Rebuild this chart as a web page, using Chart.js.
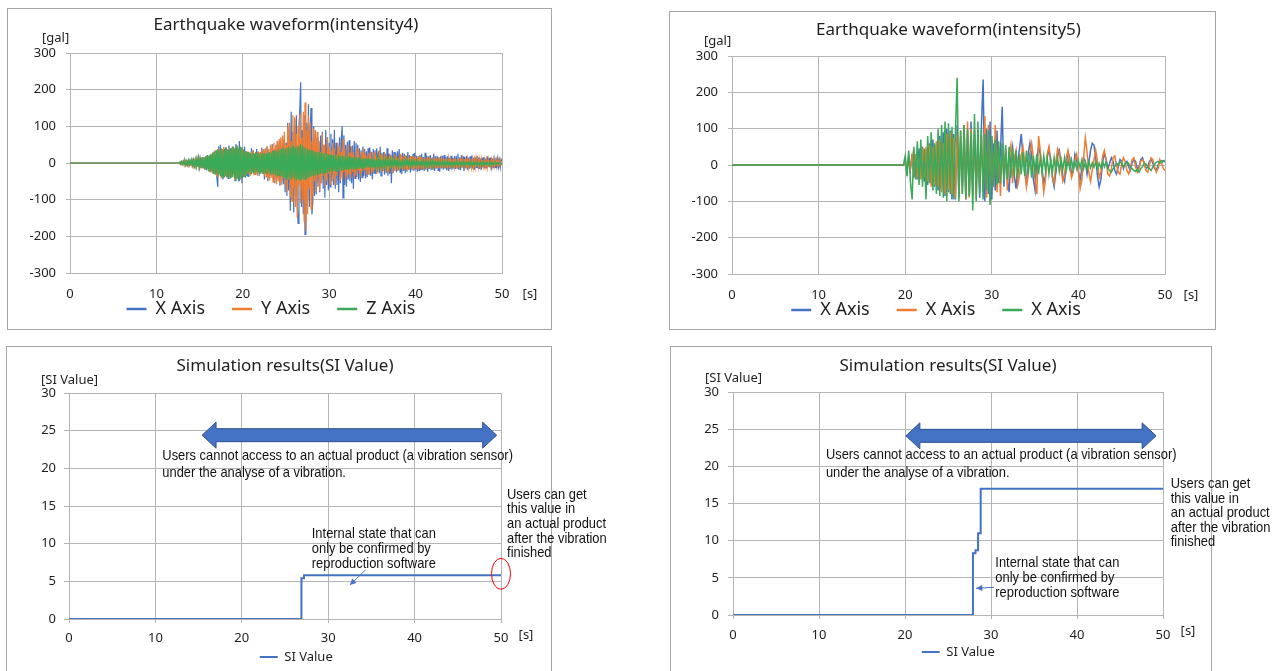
<!DOCTYPE html>
<html>
<head>
<meta charset="utf-8">
<script src="https://cdn.jsdelivr.net/npm/chart.js@4.4.1/dist/chart.umd.min.js"></script>
<style>
  html, body { margin: 0; padding: 0; background: #fff; }
  body { position: relative; width: 1283px; height: 671px; overflow: hidden; }
  .frame { position: absolute; box-sizing: border-box; border: 1px solid #a6a6a6; background: #fff; }
  canvas { position: absolute; }
</style>
</head>
<body>
<div class="frame" style="left:7px;top:8px;width:545px;height:322px"></div>
<div class="frame" style="left:669px;top:11px;width:547px;height:319px"></div>
<div class="frame" style="left:6px;top:346px;width:546px;height:400px"></div>
<div class="frame" style="left:670px;top:346px;width:542px;height:400px"></div>
<canvas id="wave4" width="543" height="320" style="left:8px;top:9px"></canvas>
<canvas id="wave5" width="545" height="317" style="left:670px;top:12px"></canvas>
<canvas id="si4" width="620" height="340" style="left:7px;top:347px"></canvas>
<canvas id="si5" width="612" height="340" style="left:671px;top:347px"></canvas>
<script>
// ---- values ----
const timeTicks = [0, 10, 20, 30, 40, 50];
const galTicks = [-300, -200, -100, 0, 100, 200, 300];
const siTicks = [0, 5, 10, 15, 20, 25, 30];

// intensity 4 record, one sample every 0.1 s from 12.6 s (flat zero before)
const wave4Start = 12.6;
const wave4Step = 0.1;
const wave4X = [
  0, 2, -3, 4, -2, 5, -4, 3, -6, 5, -3, 7, -5, 4, -8, 6, -5, 8, -7, 6,
  -9, 11, -8, 13, -10, 9, -14, 16, -12, 10, -18, 15, -20, 22, -15, 18, -25, 20, -22, 28,
  -25, 32, -30, 22, -40, -65, 45, -28, 50, -35, 38, -45, 30, -38, 42, -25, 35, -42, 48, -30,
  40, -35, 45, -28, 38, -48, 52, -40, 35, -50, 60, -45, 42, -55, 38, -30, 45, -40, 32, -35,
  30, -38, 25, -30, 40, -22, 35, -28, 20, -32, 38, -25, 30, -35, 28, -20, 42, -30, 35, -45,
  38, -30, 45, -50, 32, -40, 28, -35, 52, -42, 38, -55, 48, -38, 60, -45, 55, -62, 45, -50,
  70, -58, 65, -80, 55, -90, 110, -75, 95, -130, 140, -100, 85, -135, 120, -90, 130, -110, -165, 100,
  150, 220, -120, 90, -140, 130, -195, -150, 110, -100, 160, -120, 90, 150, -140, -110, 100, -90, 80, -85,
  70, -65, 60, -80, 75, -55, 85, -70, 50, -95, 90, -60, 70, -75, 55, -65, 80, -50, 65, -60,
  90, -70, 55, -60, 48, -80, 70, -55, 65, 100, -95, 75, -60, 50, -65, 58, -45, 62, -50, 45,
  -55, 48, -70, 60, -42, 55, -38, 50, -45, 40, -52, 35, -40, 45, -35, 38, -42, 32, -38, 40,
  -32, 42, -35, 30, -45, 38, -28, 35, -30, 40, -25, 32, -28, 45, -35, 28, -22, 30, -32, 25,
  -28, 40, -35, 25, -30, 22, -55, 35, -28, 30, -22, 28, -25, 32, -20, 38, -25, 22, -30, 28,
  -22, 25, -28, 20, -24, 30, -18, 22, -26, 18, -20, 25, -22, 28, -18, 20, -24, 18, -20, 22,
  -18, 25, -20, 16, -22, 28, -15, 20, -24, 18, -16, 22, -20, 15, -18, 25, -22, 18, -15, 20,
  -20, 16, -24, 18, -15, 20, -18, 22, -14, 16, -20, 18, -22, 15, -16, 20, -18, 14, -15, 18,
  -16, 20, -14, 25, -18, 15, -20, 22, -12, 18, -22, 16, -14, 20, -18, 15, -16, 18, -12, 20,
  -15, 14, -18, 16, -12, 20, -14, 15, -16, 12, -18, 14, -12, 16, -15, 12, -14, 18, -10, 14,
  -12, 15, -10, 12, -14, 10, -12, 14, -8, 12, -10, 8, -12, 10, 5
];
const wave4Y = [
  0, -2, 3, -4, 3, -5, 4, -3, 6, -5, 4, -7, 5, -6, 8, -5, 7, -8, 6, -9,
  10, -8, 12, -11, 9, -14, 13, -10, 16, -15, 12, -18, 20, -16, 18, -22, 20, -25, 24, -28,
  30, -25, 35, -32, 28, -38, 40, -30, 35, -42, 38, -28, 45, -35, 32, -40, 38, -30, 42, -36,
  35, -40, 42, -32, 38, -45, 40, -35, 48, -38, 35, -42, 40, -30, 36, -38, 32, -35, 30, -28,
  32, -30, 28, -35, 30, -25, 35, -32, 28, -30, 25, -35, 32, -28, 30, -25, 35, -30, 38, -35,
  40, -38, 45, -42, 38, -48, 50, -40, 45, -52, 55, -45, 50, -58, 60, -50, 65, -55, 70, -60,
  75, -40, 85, -65, 50, -80, 100, -45, 110, -95, 60, -105, 130, -70, 125, -120, 80, -150, 100, -60,
  135, -110, 70, -100, 140, -160, 165, -185, 90, -140, 130, -70, 110, -125, 60, -90, 95, -50, 90, -80,
  85, -40, 60, -75, 30, -55, 80, -35, 50, -62, 25, -48, 70, -30, 45, -58, 35, -25, 55, -45,
  40, -60, 22, -35, 55, -20, 48, -50, 30, -42, 65, -25, 38, -45, 20, -38, 50, -30, 28, -40,
  45, -25, 30, -40, 18, -35, 42, -20, 36, -28, 15, -38, 30, -22, 40, -18, 25, -32, 20, -30,
  28, -15, 32, -28, 12, -25, 30, -18, 22, -30, 15, -20, 35, -12, 24, -26, 18, -22, 30, -15,
  20, -25, 14, -22, 26, -12, 20, -28, 15, -18, 24, -10, 18, -22, 12, -20, 25, -15, 16, -20,
  20, -18, 22, -16, 18, -20, 16, -17, 19, -15, 18, -16, 20, -14, 17, -18, 15, -16, 18, -15,
  16, -18, 14, -15, 12, -16, 15, -13, 14, -12, 16, -14, 12, -15, 14, -12, 13, -14, 15, -13,
  12, -15, 14, -12, 10, -14, 13, -11, 12, -15, 11, -13, 12, -10, 14, -12, 10, -14, 12, -11,
  12, -13, 10, -15, 12, -11, 14, -12, 10, -13, 11, -10, 12, -14, 10, -12, 13, -10, 11, -12,
  10, -12, 9, -11, 12, -10, 8, -12, 10, -9, 11, -10, 8, -11, 9, -10, 8, -12, 9, -10,
  8, -10, 9, -8, 10, -9, 7, -8, 9, -7, 8, -6, 7, -5, -3
];
const wave4Z = [
  0, 2, -3, 3, -4, 4, -3, 5, -5, 4, -6, 6, -5, 7, -6, 8, -7, 6, -8, 9,
  -9, 10, -11, 12, -10, 13, -14, 15, -13, 16, -17, 18, -16, 20, -22, 21, -24, 25, -23, 28,
  -30, 28, -32, 35, -30, 38, -34, 32, -36, 40, -38, 35, -40, 38, -35, 42, -38, 36, -40, 38,
  -42, 40, -38, 45, -40, 42, -45, 48, -42, 40, -50, 45, -38, 42, -40, 35, -38, 32, -35, 30,
  -28, 30, -25, 28, -30, 26, -28, 25, -27, 30, -25, 28, -26, 24, -28, 27, -25, 28, -30, 26,
  -28, 25, -30, 28, -26, 30, -32, 28, -30, 33, -31, 35, -33, 32, -36, 35, -34, 38, -36, 40,
  -38, 42, -40, 38, -44, 42, -40, 45, -42, 40, -46, 44, -40, 48, -45, 42, -48, 45, -42, 46,
  -50, 52, -46, 48, -44, 42, -45, 40, -42, 38, -40, 37, -38, 35, -36, 34, -35, 32, -34, 30,
  -32, 30, -31, 28, -30, 29, -28, 27, -29, 26, -27, 25, -26, 24, -25, 23, -24, 22, -23, 21,
  -22, 21, -23, 20, -21, 22, -20, 19, -21, 20, -19, 18, -20, 19, -18, 17, -19, 18, -17, 16,
  -18, 16, -17, 15, -16, 17, -15, 14, -16, 15, -14, 13, -15, 14, -13, 12, -14, 13, -12, 12,
  -13, 12, -12, 11, -13, 12, -11, 10, -12, 11, -10, 10, -11, 10, -10, 9, -11, 9, -10, 9,
  -10, 9, -9, 8, -10, 9, -8, 8, -9, 8, -9, 7, -8, 8, -9, 7, -8, 7, -8, 6,
  -8, 7, -8, 6, -7, 7, -8, 6, -7, 5, -8, 6, -7, 5, -6, 6, -7, 5, -6, 5,
  -7, 5, -6, 5, -7, 4, -6, 5, -7, 4, -6, 4, -7, 5, -6, 4, -5, 4, -6, 3,
  -6, 4, -5, 3, -6, 4, -5, 3, -6, 3, -5, 4, -6, 3, -5, 2, -6, 3, -5, 2,
  -6, 3, -5, 2, -6, 3, -4, 2, -5, 3, -6, 2, -5, 2, -4, 3, -5, 2, -6, 2,
  -5, 2, -6, 2, -4, 3, -5, 1, -6, 2, -5, 2, -4, 1, -5, 2, -4, 1, -5, 1,
  -4, 2, -5, 1, -4, 2, -3, 1, -4, 1, -3, 1, -2, 0, 0
];

// intensity 5 record, one sample every 0.2 s from 19.8 s
const wave5Start = 19.8;
const wave5Step = 0.2;
const wave5Blue = [
  0, 15, -20, 25, -10, 30, -35, 20, -40, 45,
  -30, 50, -45, 40, -55, 60, -50, 70, -60, 55,
  -70, 80, -65, 90, -85, 100, -75, 95, -95, 85,
  -95, 110, -90, 80, -60, 100, -95, 90, -85, 120,
  -70, 95, -60, 80, -90, 110, 235, -100, 100, -80,
  120, -95, 60, -70, 95, -50, 40, 160, -60, 30,
  -40, -75, 20, 50, -30, -65, 10, 45, 85, 20,
  -20, -55, 30, 60, 25, -40, -70, 15, 50, 30,
  -10, -50, -30, 20, 45, 10, -35, -60, -20, 25,
  40, 10, -30, -45, 5, 35, 20, -25, -15, 30,
  15, -20, -40, -10, 20, 10, -25, 5, 40, 60,
  55, 20, -30, -60, -40, 10, 30, 15, -10, 5,
  20, 10, -15, -25, -5, 15, 10, -10, 5, 10,
  -5, -15, 5, 15, 10, -10, -5, 15, 20, 5,
  -10, -5, 10, 15, 5, -10, -15, 0, 10, 5,
  12, 8
];
const wave5Orange = [
  0, 10, -15, 20, -12, 25, -20, 30, -35, 20,
  -40, 45, -35, 50, -45, 55, -60, 50, -55, 65,
  -60, 70, -75, 60, -80, 85, -70, 90, -80, 75,
  -90, 85, -70, 95, -80, 110, -95, 120, -90, 100,
  -85, 90, -95, 70, -60, 80, -75, 135, -90, 110,
  -100, 80, -60, 110, -75, 50, -85, 60, -40, 45,
  -70, 30, 55, -50, 20, 40, -55, -30, 25, 50,
  10, -60, -30, 35, 60, 20, -45, -80, 80, 40,
  -20, -75, -40, 30, 50, 15, -30, -50, 10, 45,
  35, -10, -45, -30, 20, 40, 5, -35, -20, 15,
  30, -10, -65, -40, 20, 75, 35, -20, -45, -15,
  15, 40, 10, -35, -20, 25, 40, 15, -25, -30,
  -10, 20, 25, 0, -20, -25, 5, 20, 10, -15,
  -25, -10, 15, 20, -5, -20, -10, 10, 15, 5,
  -15, -20, 0, 20, 15, -5, -20, -10, 15, 5,
  -10, -15
];
const wave5Green = [
  0, 25, -30, 40, -45, -95, 50, -40, 65, -55,
  70, -60, 45, -95, 80, -50, 90, -70, 60, -80,
  100, -85, 110, -90, 120, -100, 115, -80, 105, -95,
  90, 240, -100, 95, -80, 110, -90, 100, -85, 90,
  -125, 140, -100, 120, -80, 100, -95, 85, -70, 95,
  -110, 80, -60, 70, -55, 65, -50, 60, -45, 55,
  -40, 50, -35, 45, -30, 40, -35, 30, -25, 35,
  -30, 40, -25, 30, -35, 25, -20, 30, -25, 20,
  -20, 25, -15, 20, -25, 15, -20, 20, -15, 18,
  -18, 15, -12, 20, -15, 12, -10, 15, -12, 10,
  -10, 12, -8, 15, -10, 8, -12, 10, -8, 6,
  -6, 8, -10, 5, -8, 10, -5, 8, -10, -15,
  -20, -10, -5, 5, 0, 8, 5, -5, 3, 8,
  5, -5, -10, -15, -18, -12, -20, -10, -5, 5,
  3, -5, -10, -15, -5, 2, 8, 10, 5, 12,
  10, 12
];

// SI value steps (time of each step, value reached)
const si4Time = [0, 26.9, 27.2, 50];
const si4Value = [0, 5.4, 5.8, 5.8];
const si5Time = [0, 27.9, 28.2, 28.5, 28.8, 50];
const si5Value = [0, 8.3, 8.7, 11, 17, 17];

// ---- styling ----
const GRID = '#b4b4b4';
const INK = '#1e1e1e';
const BLUE = '#4472c4';
const ORANGE = '#ed7d31';
const GREEN = '#3aa958';
Chart.defaults.font.family = '"Noto Sans", sans-serif';
Chart.defaults.font.size = 13;
Chart.defaults.color = INK;

function samples(start, step, values) {
  const pts = [{ x: 0, y: 0 }];
  values.forEach((v, i) => pts.push({ x: +(start + i * step).toFixed(2), y: v }));
  return pts;
}
function steps(times, values) {
  return times.map((t, i) => ({ x: t, y: values[i] }));
}
const useTicks = list => scale => { scale.ticks = list.map(value => ({ value })); };

// unit captions "[gal]" / "[s]" placed relative to the plot area
const unitLabels = {
  id: 'unitLabels',
  afterLayout(chart) {
    // the x axis takes no layout room (legend sits right under the plot),
    // but its tick labels still need room to be drawn in
    const s = chart.scales.x;
    s.height = 40;
    s.bottom = s.top + 40;
  },
  afterDraw(chart, args, o) {
    const { ctx, chartArea: a } = chart;
    ctx.save();
    ctx.font = '13px "Noto Sans"';
    ctx.fillStyle = INK;
    ctx.textBaseline = 'middle';
    ctx.textAlign = 'left';
    ctx.fillText(o.y, a.left + o.yDx, a.top + o.yDy);
    ctx.textAlign = 'center';
    ctx.fillText(o.x, a.right + o.xDx, a.bottom + o.xDy);
    ctx.restore();
  }
};

// callouts on the SI charts, anchored in data units
const notes = {
  id: 'notes',
  afterDatasetsDraw(chart, args, o) {
    if (!o.band) return;
    const { ctx, scales: { x, y } } = chart;
    const px = v => x.getPixelForValue(v);
    const py = v => y.getPixelForValue(v);
    ctx.save();

    const x1 = px(o.band.from), x2 = px(o.band.to), yc = py(o.band.y);
    const head = 14, hh = 13, sh = 6.5;
    ctx.beginPath();
    ctx.moveTo(x1, yc);
    ctx.lineTo(x1 + head, yc - hh);
    ctx.lineTo(x1 + head, yc - sh);
    ctx.lineTo(x2 - head, yc - sh);
    ctx.lineTo(x2 - head, yc - hh);
    ctx.lineTo(x2, yc);
    ctx.lineTo(x2 - head, yc + hh);
    ctx.lineTo(x2 - head, yc + sh);
    ctx.lineTo(x1 + head, yc + sh);
    ctx.lineTo(x1 + head, yc + hh);
    ctx.closePath();
    ctx.fillStyle = BLUE;
    ctx.fill();
    ctx.strokeStyle = '#2f528f';
    ctx.lineWidth = 1;
    ctx.stroke();

    // thin pointer arrow
    const ax = px(o.pointer.from[0]), ay = py(o.pointer.from[1]);
    const bx = px(o.pointer.to[0]), by = py(o.pointer.to[1]);
    const ang = Math.atan2(by - ay, bx - ax);
    ctx.strokeStyle = BLUE;
    ctx.fillStyle = BLUE;
    ctx.lineWidth = 1;
    ctx.beginPath();
    ctx.moveTo(ax, ay);
    ctx.lineTo(bx, by);
    ctx.stroke();
    ctx.beginPath();
    ctx.moveTo(bx, by);
    ctx.lineTo(bx - 7 * Math.cos(ang - 0.45), by - 7 * Math.sin(ang - 0.45));
    ctx.lineTo(bx - 7 * Math.cos(ang + 0.45), by - 7 * Math.sin(ang + 0.45));
    ctx.closePath();
    ctx.fill();

    if (o.ring) {
      ctx.beginPath();
      ctx.ellipse(px(o.ring.x), py(o.ring.y), 9.5, 15.5, 0, 0, Math.PI * 2);
      ctx.strokeStyle = '#ff0000';
      ctx.lineWidth = 1;
      ctx.stroke();
    }

    ctx.font = '15px "Liberation Sans"';
    ctx.fillStyle = '#111';
    ctx.textBaseline = 'middle';
    ctx.textAlign = 'left';
    o.texts.forEach(t => {
      t.lines.forEach((line, i) => {
        ctx.save();
        ctx.translate(px(t.x), py(t.y) + i * t.lh);
        ctx.scale(0.86, 1);
        ctx.fillText(line, 0, 0);
        ctx.restore();
      });
    });
    ctx.restore();
  }
};

function chartOptions(g) {
  return {
    responsive: false,
    animation: false,
    devicePixelRatio: 1,
    events: [],
    layout: { padding: { left: g.padL, right: g.padR, top: 0, bottom: g.padB } },
    plugins: {
      title: {
        display: true, text: g.title, fullSize: false, color: INK,
        font: { size: 17, weight: 'normal', lineHeight: '20px' },
        padding: { top: g.titleTop, bottom: g.titleBottom }
      },
      legend: {
        position: 'bottom',
        labels: {
          usePointStyle: true, pointStyle: 'line', pointStyleWidth: g.keyW,
          padding: g.keyPad, color: INK, font: { size: g.keySize },
          sort: (a, b) => a.datasetIndex - b.datasetIndex,
          generateLabels: chart => Chart.defaults.plugins.legend.labels.generateLabels(chart)
            .map(item => ({ ...item, lineWidth: g.keyLine }))
        }
      },
      tooltip: { enabled: false },
      unitLabels: g.units,
      notes: g.notes || {}
    },
    scales: {
      x: {
        type: 'linear', min: 0, max: 50,
        afterBuildTicks: useTicks(timeTicks),
        afterFit: s => { s.height = 0; },
        grid: { color: GRID, drawTicks: g.xTicks, tickLength: 4 },
        border: { color: GRID },
        ticks: { padding: g.xPad, color: INK }
      },
      y: {
        type: 'linear', min: g.yTicks[0], max: g.yTicks[g.yTicks.length - 1],
        afterBuildTicks: useTicks(g.yTicks),
        afterFit: s => { s.width = g.yW; },
        grid: { color: GRID, tickLength: g.yTick },
        border: { color: GRID },
        ticks: { padding: g.yPad, color: INK }
      },
      side: {
        type: 'linear', position: 'right',
        grid: { display: false }, border: { display: false }, ticks: { display: false },
        afterFit: s => { s.width = g.sideW; }
      }
    }
  };
}

function waveSets(start, step, lists, labels, width) {
  const colors = [BLUE, ORANGE, GREEN];
  return lists.map((vals, i) => ({
    label: labels[i],
    data: samples(start, step, vals),
    borderColor: colors[i],
    backgroundColor: colors[i],
    borderWidth: width,
    pointRadius: 0,
    tension: 0,
    order: 3 - i
  }));
}

new Chart(document.getElementById('wave4'), {
  type: 'line',
  data: { datasets: waveSets(wave4Start, wave4Step, [wave4X, wave4Y, wave4Z], ['X Axis', 'Y Axis', 'Z Axis'], 1.2) },
  options: chartOptions({
    title: 'Earthquake waveform(intensity4)', titleTop: 6, titleBottom: 18,
    padL: 0, padR: 17, padB: 1, yW: 62, sideW: 32,
    keyW: 20, keyPad: 27, keySize: 18, keyLine: 2.5,
    xTicks: false, xPad: 13, yTicks: galTicks, yTick: 4, yPad: 10,
    units: { y: '[gal]', yDx: -28, yDy: -15, x: '[s]', xDx: 28, xDy: 21 }
  }),
  plugins: [unitLabels]
});

new Chart(document.getElementById('wave5'), {
  type: 'line',
  data: { datasets: waveSets(wave5Start, wave5Step, [wave5Blue, wave5Orange, wave5Green], ['X Axis', 'X Axis', 'X Axis'], 1.5) },
  options: chartOptions({
    title: 'Earthquake waveform(intensity5)', titleTop: 8, titleBottom: 16,
    padL: 0, padR: 13, padB: 0, yW: 62, sideW: 37,
    keyW: 20, keyPad: 27, keySize: 18, keyLine: 2.5,
    xTicks: false, xPad: 13, yTicks: galTicks, yTick: 4, yPad: 10,
    units: { y: '[gal]', yDx: -28, yDy: -15, x: '[s]', xDx: 26, xDy: 21 }
  }),
  plugins: [unitLabels]
});

const noteLines = {
  band: ['Users cannot access to an actual product (a vibration sensor)', 'under the analyse of a vibration.'],
  result: ['Users can get', 'this value in', 'an actual product', 'after the vibration', 'finished'],
  internal: ['Internal state that can', 'only be confirmed by', 'reproduction software']
};

new Chart(document.getElementById('si4'), {
  type: 'line',
  data: {
    datasets: [{
      label: 'SI Value', data: steps(si4Time, si4Value), stepped: true,
      borderColor: BLUE, backgroundColor: BLUE, borderWidth: 2, pointRadius: 0
    }]
  },
  options: chartOptions({
    title: 'Simulation results(SI Value)', titleTop: 9, titleBottom: 17,
    padL: 0, padR: 41.5, padB: 13.5, yW: 62, sideW: 84.5,
    keyW: 18, keyPad: 31.5, keySize: 13, keyLine: 2,
    xTicks: true, xPad: 7, yTicks: siTicks, yTick: 5, yPad: 8,
    units: { y: '[SI Value]', yDx: -28, yDy: -13, x: '[s]', xDx: 25, xDy: 16 },
    notes: {
      band: { from: 15.4, to: 49.5, y: 24.4 },
      pointer: { from: [34.3, 6.5], to: [32.5, 4.5] },
      ring: { x: 50, y: 6.0 },
      texts: [
        { x: 10.8, y: 21.6, lh: 17, lines: noteLines.band },
        { x: 50.7, y: 16.5, lh: 14.6, lines: noteLines.result },
        { x: 28.1, y: 11.3, lh: 15, lines: noteLines.internal }
      ]
    }
  }),
  plugins: [unitLabels, notes]
});

new Chart(document.getElementById('si5'), {
  type: 'line',
  data: {
    datasets: [{
      label: 'SI Value', data: steps(si5Time, si5Value), stepped: true,
      borderColor: BLUE, backgroundColor: BLUE, borderWidth: 2, pointRadius: 0
    }]
  },
  options: chartOptions({
    title: 'Simulation results(SI Value)', titleTop: 9, titleBottom: 16,
    padL: 0, padR: 37.5, padB: 18.5, yW: 62, sideW: 82.5,
    keyW: 18, keyPad: 30.5, keySize: 13, keyLine: 2,
    xTicks: true, xPad: 8, yTicks: siTicks, yTick: 5, yPad: 9,
    units: { y: '[SI Value]', yDx: -28, yDy: -14, x: '[s]', xDx: 25, xDy: 16 },
    notes: {
      band: { from: 20.1, to: 49.2, y: 24.1 },
      pointer: { from: [30.35, 3.73], to: [28.26, 3.59] },
      texts: [
        { x: 10.8, y: 21.5, lh: 18, lines: noteLines.band },
        { x: 50.9, y: 17.6, lh: 14.5, lines: noteLines.result },
        { x: 30.5, y: 7.0, lh: 15, lines: noteLines.internal }
      ]
    }
  }),
  plugins: [unitLabels, notes]
});
</script>
</body>
</html>
